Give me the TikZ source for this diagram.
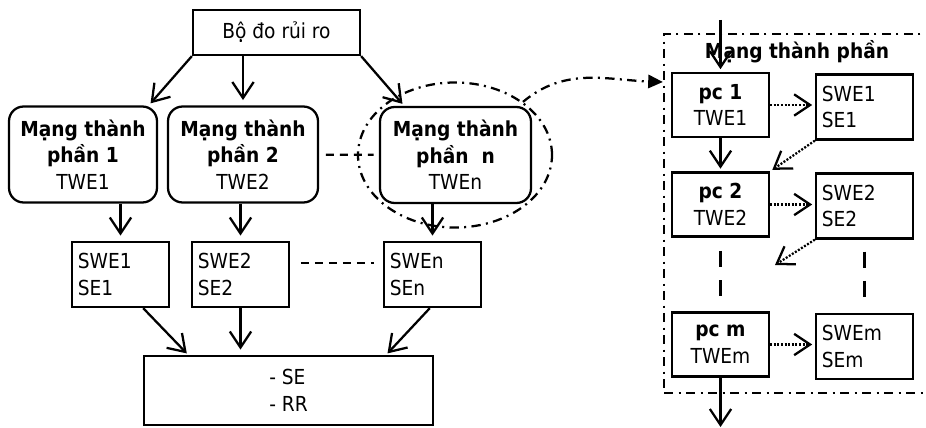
\documentclass[tikz,border=0pt]{standalone}
\usepackage{fontspec}
\setmainfont{DejaVu Sans Condensed}
\usetikzlibrary{arrows.meta, positioning, shapes.geometric}
\tikzset{
  hop/.style={draw, minimum width=72.75pt, minimum height=48.75pt, align=center, inner sep=2pt},
  mang/.style={hop, rounded corners=11pt, minimum width=111pt, minimum height=72pt},
  ketqua/.style={hop, text width=64pt, align=left, inner xsep=4pt},
  lienket/.style={dash pattern=on 6pt off 4.5pt},
  lienketdoc/.style={dash pattern=on 12pt off 10pt},
  gachcham/.style={dash pattern=on 7pt off 4pt on 1.5pt off 4pt},
  cham/.style={dash pattern=on 1.5pt off 1.2pt},
}

\begin{document}
\begin{tikzpicture}[x=0.75pt, y=-0.75pt, line width=1.7pt, >={Straight Barb[length=12pt,width=16pt]}, every node/.style={font=\fontsize{15.5pt}{20pt}\selectfont}]
\useasboundingbox (0,0) rectangle (926,428);
\node[hop, minimum width=125.25pt, minimum height=33.75pt] (bodo) at (276.5,32.5) {Bộ đo rủi ro};
\node[mang] (mang1) at (83,154.5) {\textbf{Mạng thành}\\\textbf{phần 1}\\TWE1};
\node[mang, minimum width=112.5pt] (mang2) at (243,154.5) {\textbf{Mạng thành}\\\textbf{phần 2}\\TWE2};
\node[mang, minimum width=113.25pt] (mangn) at (455.5,155) {\textbf{Mạng thành}\\\textbf{phần\ \ n}\\TWEn};
\node[ellipse, draw, gachcham, minimum width=145.5pt, minimum height=108.75pt] (vong) at (455,155) {};
\node[ketqua] (swe1) at (120.5,274.5) {SWE1\\SE1};
\node[ketqua] (swe2) at (240.5,274.5) {SWE2\\SE2};
\node[ketqua] (swen) at (432.5,274.5) {SWEn\\SEn};
\node[hop, minimum width=216.75pt, minimum height=51.75pt, align=left] (tong) at (288.5,390.5) {- SE\\- RR};
\draw[->, shorten >=2pt] (bodo.south west) -- ([xshift=-7pt]mang1.north east);
\draw[->, shorten >=4pt] (mang2.north |- bodo.south) -- (mang2.north);
\draw[->, shorten >=2pt] (bodo.south east) -- ([xshift=19pt]mangn.north west);
\draw[lienket, shorten <=5pt, shorten >=4pt] (mang2) -- (mangn);
\draw[->, shorten >=4pt] (swe1.north |- mang1.south) -- (swe1.north);
\draw[->, shorten >=4pt] (swe2.north |- mang2.south) -- (swe2.north);
\draw[->, shorten >=4pt] (swen.north |- mangn.south) -- (swen.north);
\draw[lienket, shorten <=8pt, shorten >=7pt] ([yshift=8.6pt]swe2.east) -- ([yshift=8.6pt]swen.west);
\draw[->, shorten >=1.5pt] ([xshift=17pt]swe1.south) -- ([xshift=34pt]tong.north west);
\draw[->, shorten >=4pt] (swe2.south) -- (swe2.south |- tong.north);
\draw[->, shorten >=1.5pt] ([xshift=-2pt]swen.south) -- ([xshift=-36pt]tong.north east);
\node[draw, gachcham, minimum width=214.5pt, minimum height=269.25pt] (khung) at (807,213.5) {};
\node (tieude) at (797,52) {\textbf{Mạng thành phần}};
\node[hop, minimum height=48pt] (pc1) at (720.5,105) {\textbf{pc 1}\\TWE1};
\node[ketqua] (swer1) at (864.5,107) {SWE1\\SE1};
\node[hop, minimum height=48pt] (pc2) at (720.5,204.5) {\textbf{pc 2}\\TWE2};
\node[ketqua] (swer2) at (864.5,206) {SWE2\\SE2};
\node[hop, minimum height=48pt] (pcm) at (720.5,344.5) {\textbf{pc m}\\TWEm};
\node[ketqua] (swerm) at (864.5,346.5) {SWEm\\SEm};
\coordinate (dich) at (khung.west |- 0,82);
\coordinate (vao) at (720.5,20);
\coordinate (ra) at (720.5,427);
\coordinate (dich2) at (775,265);
\draw[gachcham, -{Triangle[length=11pt,width=10pt]}] (vong.38) to[out=40, in=178] (dich);
\draw[->, shorten >=2pt] (vao) -- (pc1);
\draw[->, shorten >=2pt] (pc1) -- (pc2);
\draw[->] (pcm) -- (ra);
\draw[cham, ->, shorten >=2pt] (pc1.east) -- (pc1.east -| swer1.west);
\draw[cham, ->, shorten >=2pt] (pc2.east) -- (pc2.east -| swer2.west);
\draw[cham, ->, shorten >=2pt] (pcm.east) -- (pcm.east -| swerm.west);
\draw[cham, ->, shorten >=2pt] (swer1.south west) -- (pc2.north east);
\draw[cham, ->] (swer2.south west) -- (dich2);
\draw[lienketdoc, shorten <=10pt, shorten >=11pt] (pc2) -- (pcm);
\draw[lienketdoc, shorten <=9pt, shorten >=12pt] (swer2) -- (swerm);
\end{tikzpicture}
\end{document}
